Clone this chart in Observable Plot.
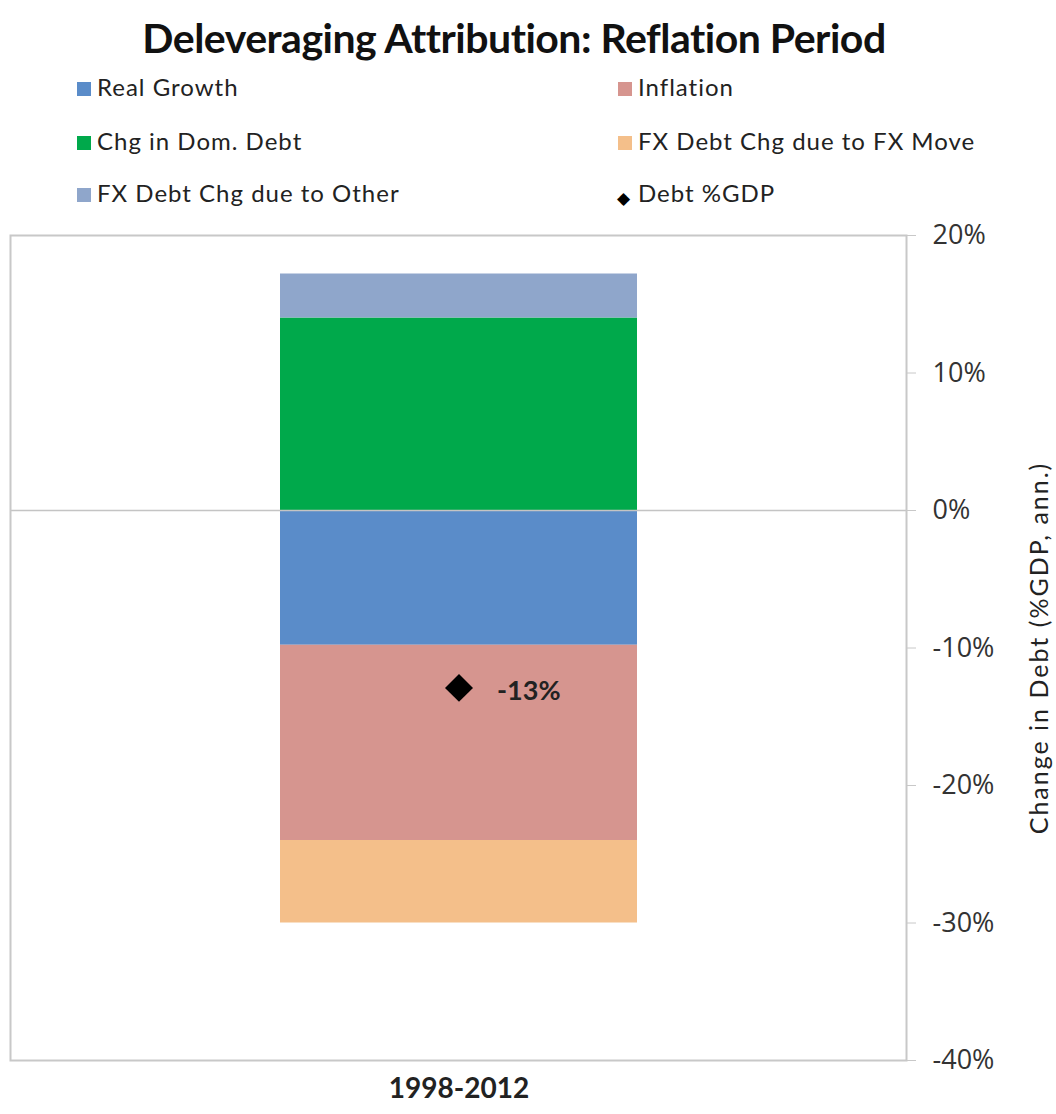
<!DOCTYPE html>
<html>
<head>
<meta charset="utf-8">
<script src="https://cdn.jsdelivr.net/npm/d3@7"></script>
<script src="https://cdn.jsdelivr.net/npm/@observablehq/plot@0.6"></script>
<style>
  html, body { margin: 0; padding: 0; background: #fff; }
  #wrap { position: relative; width: 1056px; height: 1114px; overflow: hidden; font-family: Lato, "Open Sans", sans-serif; }
  #title { position: absolute; left: -14px; width: 1056px; top: 13px; text-align: center; font-size: 41px; font-weight: bold; color: #111; letter-spacing: -0.5px; }
  .leg { position: absolute; font-size: 24px; color: #222; white-space: nowrap; line-height: 28px; letter-spacing: 1px; }
  .sw { position: absolute; width: 14px; height: 14px; }
  .dia { position: absolute; font-size: 17px; line-height: 17px; color: #000; }
  #ylab { position: absolute; left: 1038px; top: 648px; transform: translate(-50%, -50%) rotate(-90deg); font-size: 25px; letter-spacing: 2px; color: #222; white-space: nowrap; }
  #chart { position: absolute; left: 0; top: 215px; }
</style>
</head>
<body>
<div id="wrap">
  <div id="title">Deleveraging Attribution: Reflation Period</div>
  <div id="legend"></div>
  <div id="chart"></div>
  <div id="ylab">Change in Debt (%GDP, ann.)</div>
</div>
<script>
// ---- data ----
const periods = ["1998-2012"];
const components = ["Real Growth", "Inflation", "Chg in Dom. Debt", "FX Debt Chg due to FX Move", "FX Debt Chg due to Other"];
const componentValues = [-9.8, -14.2, 14.0, -6.0, 3.2];
const componentColors = ["#5a8cc9", "#d6958f", "#00a94b", "#f4bf8a", "#8fa6cb"];
const debtLabel = "Debt %GDP";
const debtChange = [-12.9];
const yTicks = [20, 10, 0, -10, -20, -30, -40];

// ---- table ----
const rows = components.map((c, i) => ({period: periods[0], component: c, value: componentValues[i]}));
const debtRows = periods.map((p, i) => ({period: p, value: debtChange[i]}));

// ---- legend ----
const legend = document.getElementById("legend");
const legendItems = components.map((c, i) => ({label: c, color: componentColors[i]})).concat([{label: debtLabel, diamond: true}]);
const swatchX = [77, 618];
const textX = [97, 638];
const textTop = [73, 127, 179];
const swatchTop = [82, 136, 188];
legendItems.forEach((item, i) => {
  const col = i % 2, row = Math.floor(i / 2);
  const t = document.createElement("div");
  t.className = "leg";
  t.style.left = textX[col] + "px";
  t.style.top = textTop[row] + "px";
  t.textContent = item.label;
  legend.appendChild(t);
  const s = document.createElement("div");
  if (item.diamond) {
    s.className = "dia";
    s.textContent = "◆";
    s.style.left = (swatchX[col] - 1) + "px";
    s.style.top = (swatchTop[row] + 1) + "px";
  } else {
    s.className = "sw";
    s.style.background = item.color;
    s.style.left = swatchX[col] + "px";
    s.style.top = swatchTop[row] + "px";
  }
  legend.appendChild(s);
});

// ---- chart ----
const chart = Plot.plot({
  width: 1056,
  height: 895,
  marginLeft: 10,
  marginRight: 150,
  marginTop: 20,
  marginBottom: 50,
  style: {fontFamily: "'Open Sans', sans-serif", fontSize: "27px", color: "#333", background: "transparent"},
  x: {domain: periods, padding: 0.43, label: null},
  y: {domain: [-40, 20], label: null},
  color: {domain: components, range: componentColors},
  marks: [
    Plot.barY(rows, Plot.stackY({x: "period", y: "value", fill: "component"})),
    Plot.ruleY([0], {stroke: "#c4c4c4", strokeWidth: 1.5}),
    Plot.frame({stroke: "#c8c8c8", strokeWidth: 2}),
    Plot.axisY({anchor: "right", ticks: yTicks, tickFormat: d => d + "%", tickSize: 9, tickPadding: 17, stroke: "#c8c8c8", label: null, fill: "#333", fontFamily: "'Open Sans', sans-serif", fontSize: 27}),
    Plot.axisX({anchor: "bottom", tickSize: 0, tickPadding: 18, label: null, fontWeight: "bold", fill: "#222", fontFamily: "Lato, sans-serif", fontSize: 28}),
    Plot.dot(debtRows, {x: "period", y: "value", symbol: "diamond2", r: 12.6, fill: "#000", stroke: null}),
    Plot.text(debtRows, {x: "period", y: "value", text: d => Math.round(d.value) + "%", textAnchor: "start", dx: 38, dy: 3, fontWeight: "bold", fontSize: 27, fill: "#222", fontFamily: "Lato, sans-serif"})
  ]
});
document.getElementById("chart").appendChild(chart);
</script>
</body>
</html>
